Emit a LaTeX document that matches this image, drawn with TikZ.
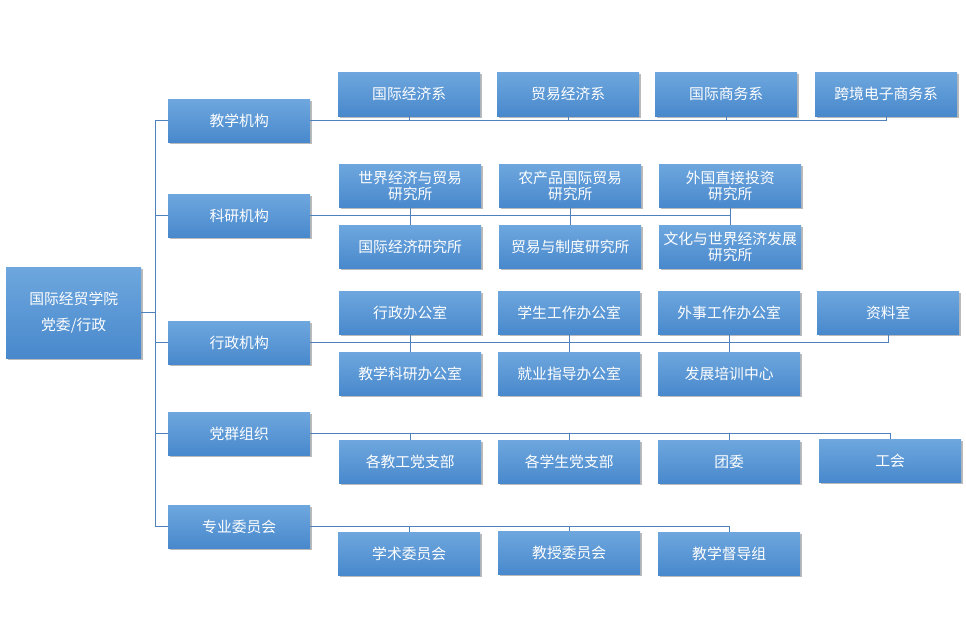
\documentclass[tikz,border=0pt]{standalone}
\usepackage{fontspec}
\newfontfamily\cjk{Noto Sans CJK SC}
\usetikzlibrary{shadows}
\definecolor{boxtop}{RGB}{110,167,222}
\definecolor{boxbot}{RGB}{72,136,204}
\definecolor{linec}{RGB}{79,129,189}
\begin{document}
\begin{tikzpicture}[x=1pt,y=-1pt,
  box/.style={draw=none, top color=boxtop, bottom color=boxbot, anchor=north west,
    inner sep=0pt, minimum width=142pt, minimum height=43pt, text=white,
    font=\cjk\fontsize{14.8}{16}\selectfont, align=center,
    drop shadow={shadow xshift=1.5pt, shadow yshift=-2pt, opacity=0.45, fill=black!60}},
  conn/.style={draw=linec, line width=1pt}]
\fill[white] (0,0) rectangle (966,625);
\useasboundingbox (0,0) rectangle (966,625);
% root
\node[box, minimum width=135pt, minimum height=91pt, font=\cjk\fontsize{14.8}{26}\selectfont] (root) at (6,267) {国际经贸学院\\党委/行政};
% level 1
\node[box] (t1) at (168,99) {教学机构};
\node[box] (t2) at (168,194) {科研机构};
\node[box] (t3) at (168,321) {行政机构};
\node[box] (t4) at (168,412) {党群组织};
\node[box] (t5) at (168,505) {专业委员会};
% teaching
\node[box, minimum height=44pt] (a1) at (338,72) {国际经济系};
\node[box, minimum height=44pt] (a2) at (497,72) {贸易经济系};
\node[box, minimum height=44pt] (a3) at (655,72) {国际商务系};
\node[box, minimum height=44pt] (a4) at (815,72) {跨境电子商务系};
% research
\node[box] (b1) at (339,164) {世界经济与贸易\\研究所};
\node[box] (b2) at (499,164) {农产品国际贸易\\研究所};
\node[box] (b3) at (659,164) {外国直接投资\\研究所};
\node[box] (b4) at (339,225) {国际经济研究所};
\node[box] (b5) at (499,225) {贸易与制度研究所};
\node[box] (b6) at (659,225) {文化与世界经济发展\\研究所};
% admin
\node[box] (c1) at (339,291) {行政办公室};
\node[box] (c2) at (498,291) {学生工作办公室};
\node[box] (c3) at (658,291) {外事工作办公室};
\node[box] (c4) at (817,291) {资料室};
\node[box] (c5) at (339,352) {教学科研办公室};
\node[box] (c6) at (498,352) {就业指导办公室};
\node[box] (c7) at (658,352) {发展培训中心};
% party
\node[box] (d1) at (339,440) {各教工党支部};
\node[box] (d2) at (498,440) {各学生党支部};
\node[box] (d3) at (658,440) {团委};
\node[box] (d4) at (819,439) {工会};
% committees
\node[box] (e1) at (338,532) {学术委员会};
\node[box] (e2) at (498,531) {教授委员会};
\node[box] (e3) at (658,532) {教学督导组};
% trunk
\coordinate (tk1) at (155,120);
\coordinate (tk5) at (155,526);
\draw[conn] (tk1) -- (tk5);
\draw[conn] (root.east) -- (root.east -| tk1);
\foreach \n in {t1,t2,t3,t4,t5} \draw[conn] (\n.west -| tk1) -- (\n.west);
% teaching connectors
\draw[conn] (t1.east) -- (t1.east -| a4.south) -- (a4.south);
\foreach \n in {a1,a2,a3} \draw[conn] (\n.south) -- (\n.south |- t1.east);
% research connectors
\draw[conn] (t2.east) -- (t2.east -| b3.south);
\draw[conn] (b1.south) -- (b4.north);
\draw[conn] (b2.south) -- (b5.north);
\draw[conn] (b3.south) -- (b6.north);
% admin connectors
\draw[conn] (t3.east) -- (t3.east -| c4.south) -- (c4.south);
\draw[conn] (c1.south) -- (c5.north);
\draw[conn] (c2.south) -- (c6.north);
\draw[conn] (c3.south) -- (c7.north);
% party connectors
\draw[conn] (t4.east) -- (t4.east -| d4.north) -- (d4.north);
\foreach \n in {d1,d2,d3} \draw[conn] (\n.north) -- (\n.north |- t4.east);
% committee connectors
\draw[conn] (t5.east) -- (t5.east -| e3.north) -- (e3.north);
\foreach \n in {e1,e2} \draw[conn] (\n.north) -- (\n.north |- t5.east);
\end{tikzpicture}
\end{document}
